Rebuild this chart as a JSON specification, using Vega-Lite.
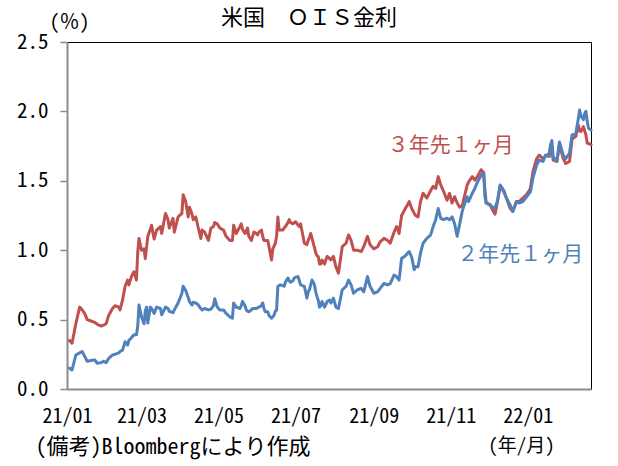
{
  "$schema": "https://vega.github.io/schema/vega-lite/v6.json",
  "width": 524,
  "height": 347,
  "autosize": {"type": "none"},
  "padding": {"left": 67, "top": 42, "right": 27, "bottom": 77},
  "background": "white",
  "config": {
    "font": "Noto Sans Mono CJK JP, Noto Sans CJK JP, sans-serif",
    "view": {"stroke": "#000000", "strokeWidth": 1},
    "axis": {"grid": false, "labelColor": "#000000", "titleColor": "#000000", "domainColor": "#8c8c8c", "domainWidth": 2, "tickColor": "#8c8c8c", "tickWidth": 1.5, "titleFontWeight": "normal"}
  },
  "title": {"text": "米国　ＯＩＳ金利", "fontSize": 22, "fontWeight": "normal", "color": "#000000", "anchor": "middle", "dx": -20, "dy": 22, "offset": 4},
  "datasets": {
    "ois": [
      {"d":"2021-01-03","r":0.35,"b":0.15},
      {"d":"2021-01-05","r":0.33,"b":0.137},
      {"d":"2021-01-08","r":0.47,"b":0.245},
      {"d":"2021-01-11","r":0.59,"b":0.26},
      {"d":"2021-01-13","r":0.57,"b":0.27},
      {"d":"2021-01-15","r":0.545,"b":0.235},
      {"d":"2021-01-17","r":0.50,"b":0.20},
      {"d":"2021-01-20","r":0.49,"b":0.205},
      {"d":"2021-01-23","r":0.48,"b":0.21},
      {"d":"2021-01-25","r":0.465,"b":0.185},
      {"d":"2021-01-28","r":0.454,"b":0.19},
      {"d":"2021-01-30","r":0.46,"b":0.20},
      {"d":"2021-02-01","r":0.47,"b":0.19},
      {"d":"2021-02-03","r":0.53,"b":0.22},
      {"d":"2021-02-06","r":0.58,"b":0.245},
      {"d":"2021-02-08","r":0.60,"b":0.25},
      {"d":"2021-02-11","r":0.59,"b":0.26},
      {"d":"2021-02-12","r":0.57,"b":0.27},
      {"d":"2021-02-14","r":0.64,"b":0.28},
      {"d":"2021-02-16","r":0.74,"b":0.34},
      {"d":"2021-02-18","r":0.785,"b":0.317},
      {"d":"2021-02-19","r":0.75,"b":0.35},
      {"d":"2021-02-21","r":0.81,"b":0.37},
      {"d":"2021-02-23","r":0.845,"b":0.39},
      {"d":"2021-02-25","r":0.785,"b":0.39},
      {"d":"2021-02-26","r":0.98,"b":0.45},
      {"d":"2021-02-27","r":1.085,"b":0.605},
      {"d":"2021-03-01","r":1.00,"b":0.52},
      {"d":"2021-03-03","r":1.01,"b":0.47},
      {"d":"2021-03-04","r":0.94,"b":0.56},
      {"d":"2021-03-05","r":1.02,"b":0.59},
      {"d":"2021-03-06","r":1.10,"b":0.475},
      {"d":"2021-03-08","r":1.15,"b":0.59},
      {"d":"2021-03-09","r":1.18,"b":0.58},
      {"d":"2021-03-11","r":1.08,"b":0.545},
      {"d":"2021-03-13","r":1.145,"b":0.59},
      {"d":"2021-03-16","r":1.17,"b":0.58},
      {"d":"2021-03-17","r":1.12,"b":0.535},
      {"d":"2021-03-20","r":1.265,"b":0.59},
      {"d":"2021-03-22","r":1.22,"b":0.58},
      {"d":"2021-03-23","r":1.16,"b":0.56},
      {"d":"2021-03-26","r":1.23,"b":0.55},
      {"d":"2021-03-27","r":1.13,"b":0.57},
      {"d":"2021-03-30","r":1.24,"b":0.62},
      {"d":"2021-04-02","r":1.265,"b":0.69},
      {"d":"2021-04-03","r":1.40,"b":0.74},
      {"d":"2021-04-05","r":1.35,"b":0.71},
      {"d":"2021-04-07","r":1.24,"b":0.66},
      {"d":"2021-04-08","r":1.31,"b":0.63},
      {"d":"2021-04-10","r":1.26,"b":0.605},
      {"d":"2021-04-11","r":1.22,"b":0.625},
      {"d":"2021-04-13","r":1.24,"b":0.62},
      {"d":"2021-04-15","r":1.16,"b":0.605},
      {"d":"2021-04-17","r":1.085,"b":0.58},
      {"d":"2021-04-18","r":1.145,"b":0.57},
      {"d":"2021-04-20","r":1.13,"b":0.58},
      {"d":"2021-04-23","r":1.07,"b":0.57},
      {"d":"2021-04-25","r":1.16,"b":0.575},
      {"d":"2021-04-27","r":1.17,"b":0.60},
      {"d":"2021-04-28","r":1.20,"b":0.65},
      {"d":"2021-04-30","r":1.19,"b":0.59},
      {"d":"2021-05-02","r":1.16,"b":0.57},
      {"d":"2021-05-05","r":1.145,"b":0.57},
      {"d":"2021-05-07","r":1.10,"b":0.545},
      {"d":"2021-05-10","r":1.07,"b":0.52},
      {"d":"2021-05-12","r":1.07,"b":0.51},
      {"d":"2021-05-13","r":1.18,"b":0.62},
      {"d":"2021-05-15","r":1.12,"b":0.59},
      {"d":"2021-05-18","r":1.17,"b":0.58},
      {"d":"2021-05-19","r":1.19,"b":0.60},
      {"d":"2021-05-20","r":1.15,"b":0.63},
      {"d":"2021-05-22","r":1.12,"b":0.60},
      {"d":"2021-05-23","r":1.14,"b":0.57},
      {"d":"2021-05-24","r":1.16,"b":0.56},
      {"d":"2021-05-25","r":1.10,"b":0.557},
      {"d":"2021-05-27","r":1.07,"b":0.57},
      {"d":"2021-05-28","r":1.10,"b":0.58},
      {"d":"2021-05-29","r":1.13,"b":0.58},
      {"d":"2021-05-31","r":1.12,"b":0.58},
      {"d":"2021-06-01","r":1.11,"b":0.585},
      {"d":"2021-06-02","r":1.13,"b":0.59},
      {"d":"2021-06-04","r":1.145,"b":0.60},
      {"d":"2021-06-05","r":1.10,"b":0.62},
      {"d":"2021-06-06","r":1.07,"b":0.58},
      {"d":"2021-06-07","r":1.07,"b":0.557},
      {"d":"2021-06-09","r":1.07,"b":0.557},
      {"d":"2021-06-10","r":1.025,"b":0.53},
      {"d":"2021-06-12","r":0.93,"b":0.51},
      {"d":"2021-06-13","r":1.01,"b":0.52},
      {"d":"2021-06-14","r":1.03,"b":0.533},
      {"d":"2021-06-15","r":1.05,"b":0.56},
      {"d":"2021-06-16","r":1.10,"b":0.57},
      {"d":"2021-06-17","r":1.24,"b":0.74},
      {"d":"2021-06-18","r":1.145,"b":0.745},
      {"d":"2021-06-19","r":1.145,"b":0.75},
      {"d":"2021-06-21","r":1.145,"b":0.745},
      {"d":"2021-06-22","r":1.16,"b":0.74},
      {"d":"2021-06-23","r":1.17,"b":0.77},
      {"d":"2021-06-25","r":1.20,"b":0.80},
      {"d":"2021-06-26","r":1.22,"b":0.78},
      {"d":"2021-06-27","r":1.20,"b":0.77},
      {"d":"2021-06-29","r":1.19,"b":0.78},
      {"d":"2021-06-30","r":1.20,"b":0.80},
      {"d":"2021-07-01","r":1.205,"b":0.805},
      {"d":"2021-07-03","r":1.18,"b":0.81},
      {"d":"2021-07-04","r":1.17,"b":0.78},
      {"d":"2021-07-05","r":1.19,"b":0.75},
      {"d":"2021-07-08","r":1.05,"b":0.74},
      {"d":"2021-07-10","r":1.04,"b":0.655},
      {"d":"2021-07-11","r":1.07,"b":0.70},
      {"d":"2021-07-12","r":1.09,"b":0.715},
      {"d":"2021-07-13","r":1.12,"b":0.75},
      {"d":"2021-07-14","r":1.09,"b":0.785},
      {"d":"2021-07-15","r":1.05,"b":0.77},
      {"d":"2021-07-16","r":1.02,"b":0.75},
      {"d":"2021-07-17","r":0.98,"b":0.70},
      {"d":"2021-07-18","r":0.96,"b":0.665},
      {"d":"2021-07-19","r":0.955,"b":0.64},
      {"d":"2021-07-20","r":0.90,"b":0.59},
      {"d":"2021-07-21","r":0.90,"b":0.60},
      {"d":"2021-07-22","r":0.93,"b":0.63},
      {"d":"2021-07-24","r":0.90,"b":0.59},
      {"d":"2021-07-25","r":0.93,"b":0.61},
      {"d":"2021-07-26","r":0.955,"b":0.63},
      {"d":"2021-07-28","r":0.94,"b":0.64},
      {"d":"2021-07-29","r":0.93,"b":0.62},
      {"d":"2021-07-31","r":0.955,"b":0.655},
      {"d":"2021-08-02","r":0.88,"b":0.59},
      {"d":"2021-08-04","r":0.835,"b":0.58},
      {"d":"2021-08-07","r":1.025,"b":0.715},
      {"d":"2021-08-10","r":1.05,"b":0.74},
      {"d":"2021-08-12","r":1.11,"b":0.785},
      {"d":"2021-08-14","r":1.07,"b":0.75},
      {"d":"2021-08-16","r":1.00,"b":0.69},
      {"d":"2021-08-19","r":1.00,"b":0.715},
      {"d":"2021-08-22","r":0.99,"b":0.725},
      {"d":"2021-08-24","r":1.025,"b":0.70},
      {"d":"2021-08-27","r":1.10,"b":0.81},
      {"d":"2021-08-29","r":1.04,"b":0.74},
      {"d":"2021-09-01","r":1.01,"b":0.69},
      {"d":"2021-09-04","r":1.025,"b":0.70},
      {"d":"2021-09-06","r":1.06,"b":0.725},
      {"d":"2021-09-09","r":1.085,"b":0.76},
      {"d":"2021-09-12","r":1.07,"b":0.75},
      {"d":"2021-09-14","r":1.05,"b":0.76},
      {"d":"2021-09-17","r":1.13,"b":0.82},
      {"d":"2021-09-19","r":1.17,"b":0.81},
      {"d":"2021-09-21","r":1.12,"b":0.785},
      {"d":"2021-09-23","r":1.25,"b":0.94},
      {"d":"2021-09-26","r":1.30,"b":0.96},
      {"d":"2021-09-29","r":1.35,"b":0.99},
      {"d":"2021-10-01","r":1.30,"b":0.95},
      {"d":"2021-10-03","r":1.265,"b":0.86},
      {"d":"2021-10-04","r":1.25,"b":0.88},
      {"d":"2021-10-06","r":1.24,"b":0.88},
      {"d":"2021-10-08","r":1.35,"b":0.98},
      {"d":"2021-10-10","r":1.41,"b":1.05},
      {"d":"2021-10-13","r":1.375,"b":1.085},
      {"d":"2021-10-16","r":1.43,"b":1.11},
      {"d":"2021-10-18","r":1.46,"b":1.17},
      {"d":"2021-10-20","r":1.445,"b":1.22},
      {"d":"2021-10-22","r":1.53,"b":1.30},
      {"d":"2021-10-24","r":1.47,"b":1.23},
      {"d":"2021-10-26","r":1.43,"b":1.22},
      {"d":"2021-10-29","r":1.36,"b":1.23},
      {"d":"2021-10-31","r":1.41,"b":1.22},
      {"d":"2021-11-02","r":1.34,"b":1.24},
      {"d":"2021-11-04","r":1.385,"b":1.19},
      {"d":"2021-11-06","r":1.34,"b":1.10},
      {"d":"2021-11-08","r":1.31,"b":1.19},
      {"d":"2021-11-10","r":1.32,"b":1.28},
      {"d":"2021-11-11","r":1.36,"b":1.31},
      {"d":"2021-11-14","r":1.47,"b":1.385},
      {"d":"2021-11-15","r":1.49,"b":1.35},
      {"d":"2021-11-18","r":1.53,"b":1.41},
      {"d":"2021-11-20","r":1.505,"b":1.445},
      {"d":"2021-11-22","r":1.53,"b":1.49},
      {"d":"2021-11-25","r":1.58,"b":1.54},
      {"d":"2021-11-27","r":1.56,"b":1.555},
      {"d":"2021-11-28","r":1.43,"b":1.385},
      {"d":"2021-11-29","r":1.34,"b":1.34},
      {"d":"2021-12-02","r":1.33,"b":1.325},
      {"d":"2021-12-04","r":1.29,"b":1.31},
      {"d":"2021-12-06","r":1.26,"b":1.30},
      {"d":"2021-12-08","r":1.35,"b":1.36},
      {"d":"2021-12-10","r":1.46,"b":1.47},
      {"d":"2021-12-13","r":1.42,"b":1.43},
      {"d":"2021-12-15","r":1.375,"b":1.375},
      {"d":"2021-12-18","r":1.30,"b":1.325},
      {"d":"2021-12-20","r":1.28,"b":1.28},
      {"d":"2021-12-23","r":1.35,"b":1.35},
      {"d":"2021-12-25","r":1.35,"b":1.34},
      {"d":"2021-12-28","r":1.375,"b":1.35},
      {"d":"2021-12-31","r":1.40,"b":1.385},
      {"d":"2022-01-03","r":1.445,"b":1.42},
      {"d":"2022-01-05","r":1.565,"b":1.52},
      {"d":"2022-01-08","r":1.66,"b":1.615},
      {"d":"2022-01-10","r":1.685,"b":1.65},
      {"d":"2022-01-13","r":1.66,"b":1.64},
      {"d":"2022-01-15","r":1.675,"b":1.685},
      {"d":"2022-01-18","r":1.70,"b":1.675},
      {"d":"2022-01-19","r":1.76,"b":1.75},
      {"d":"2022-01-20","r":1.72,"b":1.79},
      {"d":"2022-01-21","r":1.65,"b":1.675},
      {"d":"2022-01-24","r":1.64,"b":1.64},
      {"d":"2022-01-26","r":1.76,"b":1.78},
      {"d":"2022-01-29","r":1.66,"b":1.685},
      {"d":"2022-01-31","r":1.625,"b":1.66},
      {"d":"2022-02-03","r":1.64,"b":1.70},
      {"d":"2022-02-05","r":1.80,"b":1.83},
      {"d":"2022-02-08","r":1.82,"b":1.84},
      {"d":"2022-02-10","r":1.90,"b":1.95},
      {"d":"2022-02-11","r":1.86,"b":2.01},
      {"d":"2022-02-12","r":1.855,"b":1.97},
      {"d":"2022-02-14","r":1.89,"b":1.94},
      {"d":"2022-02-15","r":1.86,"b":1.985},
      {"d":"2022-02-16","r":1.83,"b":2.00},
      {"d":"2022-02-17","r":1.77,"b":1.93},
      {"d":"2022-02-18","r":1.77,"b":1.88},
      {"d":"2022-02-20","r":1.76,"b":1.865}
    ],
    "labels": [
      {"d":"2021-11-01","v":1.75,"t":"３年先１ヶ月","s":"r"},
      {"d":"2021-12-26","v":0.965,"t":"２年先１ヶ月","s":"b"}
    ],
    "note": [
      {"d":"2020-12-07","v":-0.418,"t":"(備考)Bloombergにより作成"}
    ]
  },
  "layer": [
    {
      "data": {"name": "ois"},
      "mark": {"type": "line", "color": "#C0504D", "strokeWidth": 3, "strokeJoin": "round", "strokeCap": "round"},
      "encoding": {
        "x": {"field": "d", "type": "temporal", "title": "(年/月)",
          "scale": {"type": "utc", "domain": [{"year": 2021, "month": 1, "date": 1, "utc": true}, {"year": 2022, "month": 2, "date": 20, "utc": true}]},
          "axis": {
            "values": [
              {"year": 2021, "month": 1, "date": 1, "utc": true},
              {"year": 2021, "month": 3, "date": 1, "utc": true},
              {"year": 2021, "month": 5, "date": 1, "utc": true},
              {"year": 2021, "month": 7, "date": 1, "utc": true},
              {"year": 2021, "month": 9, "date": 1, "utc": true},
              {"year": 2021, "month": 11, "date": 1, "utc": true},
              {"year": 2022, "month": 1, "date": 1, "utc": true}
            ],
            "labelExpr": "utcFormat(datum.value, '%y/%m')",
            "ticks": false, "tickSize": 0, "labelPadding": 17, "labelFontSize": 20,
            "labelFlush": false, "labelOverlap": false, "labelBaseline": "top",
            "titleX": 454, "titleY": 56, "titleAlign": "center", "titleBaseline": "middle", "titleFontSize": 19
          }
        },
        "y": {"field": "r", "type": "quantitative", "title": "(％)",
          "scale": {"domain": [0, 2.5], "nice": false, "zero": false},
          "axis": {
            "values": [0, 0.5, 1, 1.5, 2, 2.5], "format": ".1f",
            "labelFontSize": 21, "tickSize": 7, "labelPadding": 12,
            "titleAngle": 0, "titleX": 2, "titleY": -20, "titleAlign": "center", "titleBaseline": "middle", "titleFontSize": 20
          }
        }
      }
    },
    {
      "data": {"name": "ois"},
      "mark": {"type": "line", "color": "#4F81BD", "strokeWidth": 3, "strokeJoin": "round", "strokeCap": "round"},
      "encoding": {
        "x": {"field": "d", "type": "temporal", "title": "(年/月)"},
        "y": {"field": "b", "type": "quantitative", "title": "(％)"}
      }
    },
    {
      "data": {"name": "labels"},
      "mark": {"type": "text", "fontSize": 21, "align": "center", "baseline": "middle"},
      "encoding": {
        "x": {"field": "d", "type": "temporal", "title": "(年/月)"},
        "y": {"field": "v", "type": "quantitative", "title": "(％)"},
        "text": {"field": "t"},
        "color": {"field": "s", "type": "nominal", "scale": {"domain": ["r", "b"], "range": ["#C0504D", "#4F81BD"]}, "legend": null}
      }
    },
    {
      "data": {"name": "note"},
      "mark": {"type": "text", "fontSize": 22, "align": "left", "baseline": "middle", "color": "#000000"},
      "encoding": {
        "x": {"field": "d", "type": "temporal", "title": "(年/月)"},
        "y": {"field": "v", "type": "quantitative", "title": "(％)"},
        "text": {"field": "t"}
      }
    }
  ]
}
